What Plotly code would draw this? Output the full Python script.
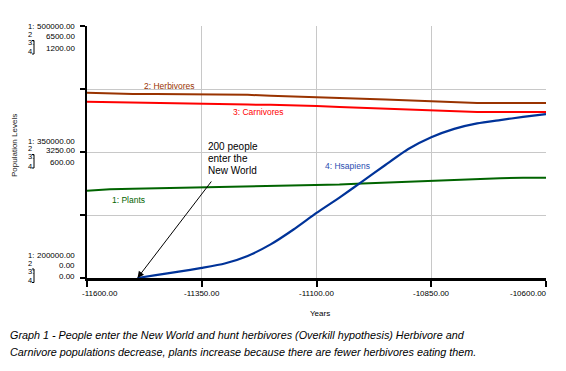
import plotly.graph_objects as go

# ---------------- data ----------------
years = [-11600, -11550, -11500, -11450, -11400, -11350, -11300, -11250, -11200, -11150,
         -11100, -11050, -11000, -10950, -10900, -10850, -10800, -10750, -10700, -10650, -10600]
plants = [303900, 305600, 306200, 306800, 307100, 307600, 308000, 308600, 309200, 309800,
          310500, 311200, 312500, 313600, 314900, 316300, 317500, 318600, 318800, 319200, 319400]
herbivores = [4780, 4754, 4746, 4744, 4741, 4738, 4738, 4725, 4702, 4687,
              4671, 4648, 4625, 4602, 4576, 4553, 4529, 4514, 4514, 4514, 4514]
carnivores = [839.5, 837.1, 835.2, 832.9, 830.5, 827.6, 826.7, 825.7, 824.8, 823.3,
              819.0, 814.8, 810.5, 805.2, 801.0, 797.1, 792.9, 790.5, 790.5, 790.5, 790.5]
human_years = [-11490, -11450, -11400, -11350, -11300, -11250, -11200, -11150, -11100, -11050,
               -11000, -10950, -10900, -10850, -10800, -10750, -10700, -10650, -10600]
hsapiens = [0, 14, 30, 48, 69, 105, 160, 231, 310, 383,
            460, 538, 614, 670, 710, 736, 752, 767, 780]

x_tick_vals = [-11600, -11350, -11100, -10850, -10600]
x_tick_labels = ["-11600.00", "-11350.00", "-11100.00", "-10850.00", "-10600.00"]
plant_ticks = [500000, 350000, 200000]
herb_ticks = [6500, 3250, 0]
carn_ticks = [1200, 600, 0]

series_names = ["1: Plants", "2: Herbivores", "3: Carnivores", "4: Hsapiens"]
caption = ["Graph 1 - People enter the New World and hunt herbivores (Overkill hypothesis) Herbivore and",
           "Carnivore populations decrease, plants increase because there are fewer herbivores eating them."]

# ---------------- style ----------------
W, H = 566, 371
L, R, T, B = 87, 20, 26, 93
PW, PH = W - L - R, H - T - B
C_PLANT, C_HERB, C_CARN, C_HUM = "#006400", "#993300", "#ff0000", "#003399"
FONT = "Liberation Sans, Arial, sans-serif"


def px(xp):
    return (xp - L) / PW


def py(yp):
    return (T + PH - yp) / PH


fig = go.Figure()
fig.add_trace(go.Scatter(x=years, y=plants, mode="lines", line=dict(color=C_PLANT, width=2),
                         yaxis="y", showlegend=False, name=series_names[0]))
fig.add_trace(go.Scatter(x=years, y=herbivores, mode="lines", line=dict(color=C_HERB, width=2),
                         yaxis="y2", showlegend=False, name=series_names[1]))
fig.add_trace(go.Scatter(x=years, y=carnivores, mode="lines", line=dict(color=C_CARN, width=2),
                         yaxis="y3", showlegend=False, name=series_names[2]))
fig.add_trace(go.Scatter(x=human_years, y=hsapiens, mode="lines",
                         line=dict(color=C_HUM, width=2.2, shape="spline", smoothing=0.6),
                         yaxis="y3", showlegend=False, name=series_names[3]))

ann = []
# x tick labels
for i, (v, t) in enumerate(zip(x_tick_vals, x_tick_labels)):
    anchor = "left" if i == 0 else ("right" if i == len(x_tick_vals) - 1 else "center")
    xs = -6 if i == 0 else (2 if i == len(x_tick_vals) - 1 else 0)
    ann.append(dict(x=v, xref="x", y=py(293), yref="paper", text=t, showarrow=False,
                    xanchor=anchor, yanchor="middle", xshift=xs, borderpad=0,
                    font=dict(size=8, color="#000", family=FONT)))

# y tick label blocks
tick_px = [26, 152, 278]
shifts = [0, -12, -23.5]
for i in range(3):
    base = tick_px[i] + shifts[i]
    rows = [("1:", 1, f"{plant_ticks[i]:.2f}", 1),
            ("2", 8.5, f"{herb_ticks[i]:.2f}", 10.5),
            ("3:", 16.5, f"{carn_ticks[i]:.2f}", 22),
            ("4", 26, None, None)]
    for lab, off, val, voff in rows:
        ann.append(dict(x=px(26.5), xref="paper", y=py(base + off), yref="paper", text=lab,
                        showarrow=False, xanchor="left", yanchor="middle", borderpad=0,
                        font=dict(size=7.5, color="#000", family=FONT)))
        if val is not None:
            ann.append(dict(x=px(76), xref="paper", y=py(base + voff), yref="paper", text=val,
                            showarrow=False, xanchor="right", yanchor="middle", borderpad=0,
                            font=dict(size=8, color="#000", family=FONT)))

# series labels
for name, col, cx, cy in [(series_names[0], C_PLANT, 128, 199.5),
                          (series_names[1], C_HERB, 169, 86),
                          (series_names[2], C_CARN, 258, 112),
                          (series_names[3], "#2a4db0", 347, 166)]:
    ann.append(dict(x=px(cx), xref="paper", y=py(cy), yref="paper", text=name, showarrow=False,
                    xanchor="center", yanchor="middle", borderpad=0,
                    font=dict(size=8.5, color=col, family=FONT)))

# 200 people note
for t, cy in [("200 people", 146.5), ("enter the", 158.5), ("New World", 170)]:
    ann.append(dict(x=px(207), xref="paper", y=py(cy), yref="paper", text=t, showarrow=False,
                    xanchor="left", yanchor="middle", borderpad=0,
                    font=dict(size=10, color="#000", family=FONT)))
ann.append(dict(x=human_years[0], xref="x", y=hsapiens[0], yref="y3", text="", showarrow=True,
                ax=75, ay=-98, axref="pixel", ayref="pixel", arrowhead=2, arrowsize=1.3,
                arrowwidth=1, arrowcolor="#000", standoff=0, startstandoff=0))

# axis titles
ann.append(dict(x=px(320), xref="paper", y=py(313), yref="paper", text="Years", showarrow=False,
                xanchor="center", yanchor="middle", font=dict(size=8, color="#000", family=FONT)))
ann.append(dict(x=px(14), xref="paper", y=py(146), yref="paper", text="Population Levels",
                showarrow=False, textangle=-90, xanchor="center", yanchor="middle",
                font=dict(size=8, color="#222", family=FONT)))

# caption
for t, cy in zip(caption, [335, 352]):
    ann.append(dict(x=px(9), xref="paper", y=py(cy), yref="paper", text=f"<i>{t}</i>",
                    showarrow=False, xanchor="left", yanchor="middle", borderpad=0,
                    font=dict(size=10.8, color="#000", family=FONT)))

# bracket marks for 3/4
shapes = []
for i in range(3):
    base = tick_px[i] + shifts[i]
    y0, y1 = base + 14.5, base + 28
    shapes.append(dict(type="path", xref="paper", yref="paper",
                       path=f"M {px(32)} {py(y0)} L {px(34)} {py(y0)} L {px(34)} {py(y1)} L {px(32)} {py(y1)}",
                       line=dict(color="#000", width=1)))

fig.update_layout(
    width=W, height=H, margin=dict(l=L, r=R, t=T, b=B),
    paper_bgcolor="white", plot_bgcolor="white",
    annotations=ann, shapes=shapes, hovermode=False,
    xaxis=dict(range=[-11600, -10600], tickvals=x_tick_vals, showticklabels=False,
               showgrid=True, gridcolor="#c8c8c8", gridwidth=1, zeroline=False,
               showline=True, linecolor="#000", linewidth=2.5,
               ticks="outside", ticklen=6, tickwidth=2, tickcolor="#000"),
    yaxis=dict(range=[200000, 500000], tickvals=[200000, 275000, 350000, 425000, 500000],
               showticklabels=False, showgrid=True, gridcolor="#c8c8c8", gridwidth=1,
               zeroline=False, showline=True, linecolor="#000", linewidth=2,
               ticks="outside", ticklen=5, tickwidth=2, tickcolor="#000"),
    yaxis2=dict(range=[0, 6500], overlaying="y", visible=False),
    yaxis3=dict(range=[0, 1200], overlaying="y", visible=False),
)

fig.write_html("out.html", config={"displayModeBar": False},
               post_script="document.body.style.margin='0';")
